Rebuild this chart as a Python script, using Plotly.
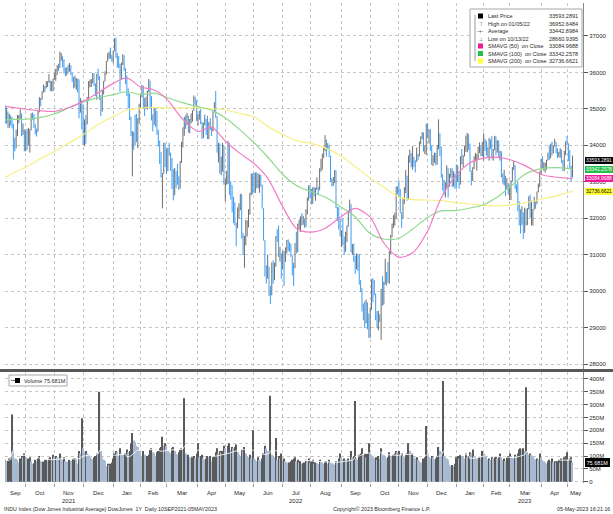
import pandas as pd
import plotly.graph_objects as go

# ---------------- data ----------------
HOLIDAYS = ["2021-11-25", "2021-12-24", "2022-01-17", "2022-02-21", "2022-04-15",
            "2022-05-30", "2022-06-20", "2022-07-04", "2022-09-05", "2022-11-24",
            "2022-12-26", "2023-01-02", "2023-01-16", "2023-02-20", "2023-04-07"]
START, END = "2021-09-10", "2023-05-05"
first_open = 34879

close = [
    34607, 34869, 34577, 34814, 34751, 34584, 33970, 33919, 34258, 34764, 34798, 34870, 34299, 34390, 33844,
    34326, 34002, 34314, 34417, 34754, 34746, 34496, 34378, 34377, 34912, 35295, 35259, 35457, 35609, 35603, 35677, 35741, 35757, 35491, 35731, 35820,
    35913, 36053, 36158, 36124, 36328, 36432, 36320, 36080, 35921, 36100, 36087, 36142, 35931, 35871, 35602, 35619, 35814, 35805, 34899, 35136, 34484,
    34022, 34640, 34580, 35227, 35719, 35754, 35754, 35971, 35650, 35544, 35927, 35898, 35365, 34932, 35493, 35754, 35950, 36302, 36398, 36488, 36398, 36338,
    36585, 36800, 36407, 36236, 36231, 36068, 36252, 36290, 36114, 35912, 35369, 35029, 34715, 34265, 34364, 34298, 34168, 34160, 34725, 35132,
    35405, 35629, 35111, 35089, 35091, 35463, 35768, 35242, 34738, 34566, 34989, 34934, 34312, 34079, 33597, 33132, 33224, 34059, 33893,
    33295, 33891, 33795, 33615, 32818, 32633, 33287, 33174, 32945, 32818, 33545, 34063, 34481, 34755, 34553, 34808, 34359, 34708, 34862, 34956, 35294, 35229, 34679,
    34818, 34922, 34641, 34497, 34584, 34721, 34309, 34221, 34565, 34452, 34412, 34912, 35161, 34793, 33812, 34050, 33241, 33302, 34000, 32977,
    33062, 33129, 34061, 32998, 32900, 32246, 32161, 31834, 31730, 32197, 32223, 32655, 31490, 31253, 31262, 31880, 31929, 32120, 32637, 33213, 32990,
    32813, 33248, 32900, 32916, 33180, 32910, 32273, 31393, 30517, 30365, 30669, 29927, 29889, 30530, 30483, 30677, 31501, 31439, 30947, 31029, 30775,
    31097, 30968, 31037, 31385, 31338, 31173, 30982, 30773, 30631, 31288, 31073, 31827, 31875, 32037, 31899, 31990, 31762, 32198, 32530, 32845,
    32798, 32397, 32813, 32727, 32803, 32833, 32774, 33310, 33337, 33761, 33913, 34152, 33981, 33999, 33707, 33064, 32910, 32969, 33292, 32283, 32099, 31791, 31510,
    31656, 31318, 31145, 31581, 31775, 32152, 32381, 31105, 31135, 30962, 30822, 31020, 30706, 30184, 30077, 29590, 29261, 29135, 29684, 29226, 28726,
    29491, 30317, 30274, 29927, 29297, 29203, 29240, 29211, 30039, 29635, 30186, 30524, 30424, 30334, 31083, 31500, 31837, 31840, 32034, 32862, 32733,
    32653, 32148, 32001, 32403, 32827, 33161, 32514, 33716, 33748, 33537, 33593, 33554, 33547, 33746, 33700, 34098, 34195, 34347, 33850, 33853, 34590,
    34395, 34430, 33947, 33597, 33598, 33781, 33477, 34005, 34108, 33966, 33203, 32920, 32757, 32850, 33377, 33027, 33204, 33241, 32876, 33221, 33147,
    33136, 33270, 32930, 33631, 33518, 33704, 33974, 34190, 34303, 33910, 33297, 33045, 33375, 33630, 33734, 33744, 33949, 33978, 33717, 34086,
    34093, 34054, 33926, 33891, 34156, 33949, 33699, 33869, 34246, 34089, 34128, 33697, 33827, 33130, 33045, 33154, 32817, 32889, 32657,
    32662, 33004, 33391, 33432, 32856, 32798, 32255, 31910, 31820, 32155, 31875, 32247, 31862, 32245, 32561, 32031, 32106, 32238, 32433, 32395, 32718, 32860, 33274,
    33601, 33403, 33483, 33486, 33587, 33685, 33647, 34030, 33887, 33988, 34083, 33898, 33787, 33809, 33876, 33531, 33302, 33827, 34098,
    34052, 33684, 33414, 33128, 33593,
]

high = [
    35100, 35030, 34930, 34870, 34800, 34780, 34440, 34210, 34430, 34830, 34830, 34990, 34770, 34600, 34440,
    34400, 34450, 34480, 34440, 34880, 34900, 34860, 34580, 34460, 34960, 35320, 35300, 35480, 35670, 35620, 35760, 35760, 35950, 35770, 35760, 35830,
    35990, 36100, 36200, 36240, 36570, 36530, 36440, 36360, 36130, 36140, 36210, 36260, 36200, 35990, 35850, 35910, 35850, 35820, 35370, 35300, 35240,
    35120, 34710, 34830, 35330, 35760, 35800, 35820, 35980, 35950, 35700, 35960, 36100, 35750, 35200, 35520, 35760, 36030, 36310, 36530, 36570, 36680, 36480,
    36600, 36935, 36953, 36530, 36450, 36100, 36270, 36500, 36470, 36080, 35730, 35560, 35420, 34790, 34390, 34350, 34840, 34860, 34740, 35140,
    35410, 35660, 35470, 35300, 35330, 35500, 35820, 35750, 35350, 34850, 35030, 34970, 34880, 34430, 34130, 33820, 33240, 34070, 33990,
    33830, 33930, 34070, 33790, 33650, 33350, 33380, 33230, 33490, 33150, 33570, 34100, 34490, 34780, 34830, 34890, 34700, 34720, 34870, 34960, 35370, 35330, 35200,
    34860, 34950, 35000, 34580, 34620, 34840, 34620, 34810, 34640, 34740, 34500, 34940, 35180, 35492, 34750, 34070, 33960, 33690, 34070, 33880,
    33080, 33300, 34120, 33930, 33010, 32780, 32590, 32440, 31880, 32300, 32410, 32670, 32400, 31600, 31520, 31950, 31940, 32250, 32700, 33220, 33230,
    33250, 33250, 33100, 33230, 33200, 33110, 32910, 32000, 31010, 30710, 31000, 30360, 30140, 30790, 30840, 30780, 31510, 31700, 31800, 31210, 30950,
    31100, 31000, 31200, 31400, 31420, 31330, 31300, 30870, 30660, 31320, 31630, 31850, 31960, 32050, 32140, 32070, 31980, 32250, 32570, 32910,
    32900, 32800, 32850, 32860, 32830, 33120, 32850, 33370, 33630, 33770, 33960, 34280, 34050, 34060, 33900, 33480, 33090, 33130, 33320, 33310, 32310, 32300, 31990,
    31670, 32000, 31500, 31630, 31800, 32210, 32510, 32020, 31290, 31310, 30830, 31030, 30850, 31010, 30300, 29960, 29660, 29720, 29770, 29550, 29390,
    29560, 30320, 30360, 30300, 29910, 29450, 29460, 29370, 30060, 30410, 30260, 30890, 30510, 30800, 31100, 31540, 31850, 32080, 32150, 32860, 32880,
    33040, 32800, 32160, 32550, 32850, 33320, 33100, 33720, 33880, 33780, 33980, 33690, 33590, 33940, 33760, 34100, 34250, 34360, 34290, 34010, 34590,
    34600, 34440, 34340, 34000, 33730, 33800, 33790, 34010, 34712, 34330, 33820, 33140, 33050, 32990, 33450, 33230, 33220, 33380, 33360, 33290, 33150,
    33480, 33450, 33190, 33700, 33900, 33730, 33990, 34270, 34340, 34260, 34050, 33280, 33400, 33700, 33790, 33750, 33960, 34080, 33950, 34090,
    34330, 34180, 34120, 33950, 34200, 34150, 34250, 33900, 34260, 34200, 34130, 33990, 33850, 33600, 33230, 33330, 32850, 33100, 32960,
    32890, 33040, 33400, 33570, 33460, 32930, 33000, 32460, 32250, 32330, 31900, 32290, 32200, 32280, 32600, 32650, 32480, 32250, 32590, 32450, 32730, 32950, 33280,
    33630, 33700, 33540, 33520, 33600, 33800, 34000, 34040, 34100, 33990, 34180, 33990, 33920, 33820, 33920, 33850, 33600, 33850, 34110,
    34257, 34050, 33870, 33440, 33720,
]

low = [
    34590, 34750, 34480, 34480, 34540, 34460, 33610, 33840, 33920, 34320, 34600, 34730, 34250, 34290, 33840,
    33900, 33880, 34000, 33800, 34480, 34700, 34480, 34300, 34240, 34500, 34960, 35070, 35260, 35460, 35460, 35560, 35600, 35720, 35490, 35500, 35480,
    35800, 35770, 35930, 36040, 36150, 36360, 36140, 35970, 35900, 35920, 35970, 36020, 35930, 35740, 35560, 35590, 35520, 35450, 34740, 34920, 34440,
    34010, 33990, 34040, 34640, 35360, 35590, 35600, 35700, 35630, 35350, 35250, 35790, 35250, 34800, 35020, 35400, 35790, 35970, 36320, 36370, 36380, 36300,
    36250, 36600, 36400, 36130, 36120, 35470, 35800, 36200, 36040, 35680, 35350, 35020, 34690, 34260, 33150, 33870, 33990, 34090, 33920, 34590,
    35000, 35320, 35000, 34800, 35000, 34980, 35520, 35030, 34680, 34380, 34670, 34510, 34290, 33970, 33490, 33120, 32270, 33300, 33400,
    33210, 33430, 33710, 33300, 32810, 32490, 32880, 32830, 32920, 32780, 32960, 33520, 33940, 34260, 34450, 34570, 34350, 34330, 34600, 34650, 35000, 35110, 34670,
    34540, 34700, 34580, 34170, 34200, 34550, 34280, 34170, 34170, 34420, 34260, 34380, 34920, 34750, 33800, 33530, 33230, 33180, 33280, 32920,
    32460, 32920, 32940, 32640, 32510, 32160, 31860, 31800, 31230, 31770, 31980, 32340, 31440, 30990, 30640, 31340, 31500, 31750, 32100, 32730, 32660,
    32700, 32690, 32820, 32820, 32700, 32860, 32270, 31390, 30400, 30210, 30340, 29870, 29650, 30160, 30200, 30300, 30720, 31350, 30940, 30810, 30340,
    30600, 30140, 30800, 31050, 31100, 31080, 30940, 30430, 30140, 30770, 31030, 31200, 31700, 31620, 31800, 31820, 31740, 31780, 32100, 32480,
    32560, 32380, 32400, 32600, 32480, 32780, 32640, 32960, 33280, 33410, 33650, 33840, 33690, 33870, 33680, 33000, 32870, 32890, 32980, 32280, 31930, 31690, 31500,
    31210, 31250, 30990, 31080, 31350, 31860, 32160, 31060, 30990, 30800, 30470, 30600, 30550, 30180, 29970, 29440, 29200, 28990, 29120, 28950, 28720,
    28720, 29700, 29700, 29880, 29200, 28980, 28920, 29150, 28661, 29600, 29730, 30230, 30150, 30230, 30200, 31020, 31480, 31730, 31800, 31980, 32660,
    32580, 32140, 31730, 32060, 32410, 32690, 32480, 33050, 33520, 33400, 33330, 33410, 33260, 33600, 33590, 33730, 34030, 34170, 33830, 33760, 33740,
    34200, 34050, 33850, 33460, 33430, 33520, 33450, 33480, 33890, 33700, 33110, 32760, 32640, 32570, 32980, 32570, 32860, 33110, 32860, 32960, 32810,
    32810, 32990, 32810, 32980, 33480, 33400, 33700, 33820, 33810, 33870, 33280, 32900, 33020, 33350, 33560, 33300, 33600, 33790, 33700, 33700,
    33580, 33850, 33720, 33680, 33580, 33900, 33620, 33580, 33900, 33720, 33800, 33670, 33580, 33120, 32950, 32900, 32610, 32810, 32650,
    32500, 32500, 33050, 33320, 32800, 32700, 32190, 31800, 31580, 31880, 31430, 31600, 31800, 31810, 32320, 32020, 31800, 31800, 32260, 32260, 32470, 32750, 32880,
    33200, 33350, 33300, 33250, 33330, 33590, 33600, 33690, 33720, 33780, 33960, 33780, 33650, 33670, 33660, 33520, 33290, 33400, 33730,
    34000, 33570, 33380, 33000, 33240,
]

volume_m = [
    85, 80, 82, 90, 95, 262, 122, 90, 88, 85, 75, 90, 100, 95, 110,
    95, 85, 90, 95, 80, 70, 72, 85, 82, 90, 100, 80, 75, 78, 85, 88, 82, 90, 95, 85, 105,
    95, 100, 95, 90, 110, 90, 85, 95, 80, 78, 75, 85, 82, 80, 90, 92, 88, 70, 120, 110, 247,
    130, 115, 120, 110, 105, 95, 90, 88, 95, 100, 110, 105, 350, 120, 95, 85, 80, 60, 70, 65, 70, 75,
    90, 110, 120, 115, 100, 130, 110, 105, 100, 110, 125, 115, 120, 150, 190, 160, 155, 140, 135, 120,
    110, 100, 120, 105, 95, 100, 105, 125, 130, 115, 110, 100, 115, 120, 130, 135, 175, 140, 150,
    140, 120, 115, 110, 130, 135, 120, 110, 105, 115, 125, 130, 125, 325, 110, 100, 105, 95, 90, 95, 100, 90, 110,
    150, 95, 100, 105, 90, 85, 90, 100, 95, 100, 80, 95, 100, 115, 130, 110, 120, 115, 120, 140,
    130, 110, 140, 150, 125, 135, 130, 135, 145, 115, 105, 100, 125, 120, 135, 110, 100, 95, 105, 90, 200,
    90, 85, 80, 95, 85, 80, 90, 110, 140, 130, 120, 115, 335, 105, 100, 95, 170, 85, 100, 90, 110,
    85, 90, 80, 75, 70, 75, 80, 85, 90, 95, 80, 85, 75, 80, 70, 72, 75, 85, 80, 90,
    75, 80, 85, 70, 75, 72, 68, 85, 80, 75, 70, 78, 80, 70, 85, 75, 72, 70, 65, 80, 75, 90, 110,
    95, 85, 90, 85, 80, 90, 85, 120, 95, 100, 314, 90, 85, 105, 110, 130, 105, 110, 95, 110, 150,
    110, 105, 95, 90, 95, 85, 100, 90, 130, 110, 105, 100, 90, 95, 115, 100, 95, 105, 110, 120, 115,
    120, 105, 110, 100, 95, 105, 110, 150, 120, 100, 110, 95, 90, 95, 85, 80, 75, 60, 90, 95, 217,
    110, 95, 90, 100, 95, 85, 90, 100, 135, 120, 115, 392, 100, 95, 90, 85, 65, 60, 65, 60, 70,
    95, 100, 90, 105, 100, 95, 90, 110, 95, 100, 115, 110, 125, 100, 95, 90, 85, 95, 90, 120,
    110, 105, 100, 85, 90, 85, 95, 90, 95, 100, 90, 95, 110, 95, 85, 90, 80, 95, 100,
    110, 100, 95, 90, 105, 100, 110, 125, 130, 125, 130, 120, 368, 115, 105, 110, 105, 100, 90, 85, 90, 85, 110,
    95, 85, 80, 75, 70, 80, 85, 80, 90, 75, 80, 75, 80, 85, 75, 90, 85, 95, 100,
    115, 85, 90, 95, 75.681,
]

sma_dates = ["2021-09-10", "2021-09-22", "2021-10-01", "2021-10-15", "2021-11-01", "2021-11-15",
             "2021-12-01", "2021-12-15", "2022-01-03", "2022-01-18", "2022-02-01", "2022-02-15",
             "2022-03-01", "2022-03-16", "2022-04-01", "2022-04-18", "2022-05-02", "2022-05-16",
             "2022-06-01", "2022-06-15", "2022-07-01", "2022-07-18", "2022-08-01", "2022-08-16",
             "2022-09-01", "2022-09-16", "2022-10-03", "2022-10-17", "2022-11-01", "2022-11-15",
             "2022-12-01", "2022-12-15", "2023-01-03", "2023-01-18", "2023-02-01", "2023-02-15",
             "2023-03-01", "2023-03-16", "2023-04-03", "2023-04-18", "2023-05-01", "2023-05-05"]
sma50 = [35070, 35030, 34990, 34950, 34930, 35030, 35200, 35420, 35700, 35850, 35600, 35520,
         35280, 34750, 34380, 34500, 34120, 33800, 33500, 33100, 32320, 31720, 31620, 31720,
         32050, 32270, 32030, 31320, 30930, 31050, 31650, 32560, 33180, 33520, 33650, 33670,
         33610, 33450, 33200, 33130, 33100, 33085]
sma100 = [34700, 34710, 34715, 34760, 34860, 35020, 35190, 35300, 35390, 35470, 35390, 35430,
          35320, 35180, 35060, 34960, 34760, 34450, 34070, 33680, 33200, 32900, 32740, 32580,
          32300, 32040, 31580, 31430, 31450, 31700, 32020, 32200, 32210, 32280, 32370, 32580,
          32850, 33200, 33360, 33390, 33370, 33342]
sma200 = [33120, 33280, 33400, 33620, 33830, 34050, 34290, 34550, 34790, 34970, 35020, 35045,
          35030, 35030, 35030, 35010, 34970, 34880, 34780, 34520, 34300, 34130, 34060, 33930,
          33700, 33420, 33100, 32850, 32580, 32510, 32500, 32480, 32430, 32390, 32350, 32340,
          32360, 32420, 32520, 32600, 32700, 32737]

legend_labels = ["Last Price", "High on 01/05/22", "Average", "Low on 10/13/22",
                 "SMAVG (50)  on Close", "SMAVG (100)  on Close", "SMAVG (200)  on Close"]
legend_values = ["33593.2891", "36952.6484", "33442.8984", "28660.9395",
                 "33084.9688", "33342.2578", "32736.6621"]
tag_values = [33593.2891, 33342.2578, 33084.9688, 32736.6621]
vol_last = 75.681
price_ticks = [28000, 29000, 30000, 31000, 32000, 33000, 34000, 35000, 36000, 37000]
vol_ticks = [0, 50, 100, 150, 200, 250, 300, 350, 400]
vol_tick_text = ["0", "50M", "100M", "150M", "200M", "250M", "300M", "350M", "400M"]
footer_left = "INDU Index (Dow Jones Industrial Average) DowJones  1Y  Daily 10SEP2021-05MAY2023"
footer_mid = "Copyright\u00a9 2023 Bloomberg Finance L.P."
footer_right = "05-May-2023 16:21:16"

# ---------------- styling / geometry ----------------
W, H = 613, 514
ML, MR, MT, MB = 5, 30, 3, 31
PW, PH = W - ML - MR, H - MT - MB
FONT = "Liberation Sans"
UP, DN = "#6e6e6e", "#3d9cf2"
PINK, GREEN, YELLOW = "#f27cc8", "#8fd98f", "#f7ef86"
PINK_T, GREEN_T, YELLOW_T = "#ee1a9a", "#22c04a", "#ffff33"
GRID = "#c6c6c6"
TXT = "#2a2a2a"


def pxx(px):
    return (px - ML) / PW


def pxy(py):
    return (H - MB - py) / PH


dates = pd.bdate_range(START, END)
dates = dates[~dates.isin(pd.to_datetime(HOLIDAYS))]
n = len(dates)
idx = list(range(n))
open_ = [first_open] + close[:-1]
hi = [max(h, o, c) for h, o, c in zip(high, open_, close)]
lo = [min(l, o, c) for l, o, c in zip(low, open_, close)]
sma_idx = list(dates.get_indexer(pd.to_datetime(sma_dates)))

step = 1.367
r0 = -(5.2 - ML) / step
r1 = r0 + PW / step

months = dates.to_period("M")
starts = [0] + [i for i in range(1, n) if months[i] != months[i - 1]]
grid_x = starts[1:]

vcol = ["#5a5a5a" if (i == 0 or volume_m[i] >= volume_m[i - 1]) else "#a8bad2" for i in range(n)]
vol_ma = pd.Series(volume_m).rolling(20, min_periods=1).mean().tolist()

fig = go.Figure()
for vals, col in [(sma200, YELLOW), (sma100, GREEN), (sma50, PINK)]:
    fig.add_trace(go.Scatter(x=sma_idx, y=vals, mode="lines", xaxis="x", yaxis="y",
                             line=dict(color=col, width=1.2, shape="spline", smoothing=0.8),
                             hoverinfo="skip"))
fig.add_trace(go.Ohlc(x=idx, open=open_, high=hi, low=lo, close=close, xaxis="x", yaxis="y",
                      increasing=dict(line=dict(color=UP, width=1)),
                      decreasing=dict(line=dict(color=DN, width=1)),
                      tickwidth=0.2, hoverinfo="skip"))
fig.add_trace(go.Bar(x=idx, y=volume_m, xaxis="x2", yaxis="y2", width=0.85,
                     marker=dict(color=vcol, line=dict(width=0)), hoverinfo="skip"))
fig.add_trace(go.Scatter(x=idx, y=vol_ma, mode="lines", xaxis="x2", yaxis="y2",
                         line=dict(color="white", width=1), opacity=0.85, hoverinfo="skip"))

axis_font = dict(family=FONT, size=6, color=TXT)
common_x = dict(type="linear", range=[r0, r1], tickvals=grid_x, showticklabels=False,
                showgrid=True, gridcolor=GRID, griddash="dot", gridwidth=1, zeroline=False,
                domain=[0, 1])
fig.update_layout(
    width=W, height=H, margin=dict(l=ML, r=MR, t=MT, b=MB),
    paper_bgcolor="white", plot_bgcolor="white", showlegend=False, hovermode=False,
    xaxis=dict(**common_x, anchor="y", ticks="", rangeslider=dict(visible=False)),
    xaxis2=dict(**common_x, anchor="y2", matches="x", ticks="outside", ticklen=3, tickcolor="#9a9a9a"),
    yaxis=dict(domain=[pxy(369), 1], range=[27863, 37905], side="right", anchor="x",
               tickvals=price_ticks, ticktext=[str(v) for v in price_ticks],
               ticks="outside", ticklen=4, tickcolor="#555", showline=True, linecolor="#8a8a8a",
               showgrid=True, gridcolor=GRID, griddash="dot", zeroline=False, tickfont=axis_font),
    yaxis2=dict(domain=[0, pxy(372)], range=[-5.06, 427.2], side="right", anchor="x2",
                tickvals=vol_ticks, ticktext=vol_tick_text,
                ticks="outside", ticklen=4, tickcolor="#555", showline=True, linecolor="#8a8a8a",
                showgrid=True, gridcolor=GRID, griddash="dot", zeroline=False, tickfont=axis_font),
)

shapes = []
ann = []


def text(t, px, py, size=5.5, color=TXT, xanchor="left", **kw):
    ann.append(dict(text=t, x=pxx(px), y=pxy(py), xref="paper", yref="paper", showarrow=False,
                    xanchor=xanchor, yanchor="middle", font=dict(family=FONT, size=size, color=color), **kw))


# panel separator
shapes.append(dict(type="line", xref="paper", yref="paper", x0=pxx(0), x1=pxx(W), y0=pxy(370.5), y1=pxy(370.5),
                   line=dict(color="#5a5a5a", width=3)))

# month and year labels
mid_pos = []
for k, s in enumerate(starts):
    a = r0 if k == 0 else s
    b = r1 if k == len(starts) - 1 else starts[k + 1]
    c = (a + b) / 2
    mid_pos.append(c)
    ann.append(dict(text=dates[s].strftime("%b"), x=c, y=pxy(493), xref="x", yref="paper", showarrow=False,
                    xanchor="center", yanchor="middle", font=dict(family=FONT, size=6, color=TXT)))
years = {}
for k, s in enumerate(starts):
    years.setdefault(dates[s].year, []).append(k)
for yr, ks in years.items():
    k = ks[len(ks) // 2]
    ann.append(dict(text=str(yr), x=mid_pos[k], y=pxy(501), xref="x", yref="paper", showarrow=False,
                    xanchor="center", yanchor="middle", font=dict(family=FONT, size=6, color=TXT)))

# footer
text(footer_left, 2, 509, size=5.3)
text(footer_mid, 381, 509, size=5.3, xanchor="center")
text(footer_right, 612, 509, size=5.3, xanchor="right")

# legend box
bx0, bx1, by0, by1 = 470, 582, 9, 67
shapes.append(dict(type="rect", xref="paper", yref="paper", x0=pxx(bx0), x1=pxx(bx1), y0=pxy(by1), y1=pxy(by0),
                   line=dict(color="#a8a8a8", width=1), fillcolor="white"))
shapes.append(dict(type="line", xref="paper", yref="paper", x0=pxx(475), x1=pxx(475), y0=pxy(61), y1=pxy(15),
                   line=dict(color="#9a9a9a", width=1)))
rows_y = [16, 23.5, 31, 38.5, 46, 53.5, 61]
sq_cols = {0: "#000000", 4: PINK_T, 5: GREEN_T, 6: YELLOW_T}
for r, (lab, val) in enumerate(zip(legend_labels, legend_values)):
    y = rows_y[r]
    if r in sq_cols:
        shapes.append(dict(type="rect", xref="paper", yref="paper", x0=pxx(478), x1=pxx(483),
                           y0=pxy(y + 2.5), y1=pxy(y - 2.5), line=dict(width=0), fillcolor=sq_cols[r]))
    else:
        glyph = {1: "\u22a4", 2: "-+-", 3: "\u22a5"}[r]
        text(glyph, 480.5, y, size=5, xanchor="center", color="#444")
    text(lab, 486, y)
    text(val, 580, y, xanchor="right")

# right-side value tags
tag_bg = ["#000000", GREEN_T, PINK_T, YELLOW_T]
tag_fg = ["white", "white", "white", "black"]
for v, bg, fg in zip(tag_values, tag_bg, tag_fg):
    ann.append(dict(text=f"{v:.4f}", x=pxx(584.5), y=v, xref="paper", yref="y", showarrow=False,
                    xanchor="left", yanchor="middle", bgcolor=bg, bordercolor=bg, borderpad=0,
                    font=dict(family=FONT, size=4.9, color=fg)))
ann.append(dict(text=f"{vol_last:.3f}M", x=pxx(584.5), y=vol_last, xref="paper", yref="y2", showarrow=False,
                xanchor="left", yanchor="middle", bgcolor="black", bordercolor="black", borderpad=0.5,
                font=dict(family=FONT, size=5.5, color="white")))

# volume legend
shapes.append(dict(type="rect", xref="paper", yref="paper", x0=pxx(9), x1=pxx(67), y0=pxy(386), y1=pxy(375),
                   line=dict(color="#a8a8a8", width=1), fillcolor="white"))
shapes.append(dict(type="line", xref="paper", yref="paper", x0=pxx(11), x1=pxx(15), y0=pxy(380.5), y1=pxy(380.5),
                   line=dict(color="#777", width=1)))
shapes.append(dict(type="rect", xref="paper", yref="paper", x0=pxx(15), x1=pxx(20), y0=pxy(383), y1=pxy(378),
                   line=dict(width=0), fillcolor="black"))
text(f"Volume {vol_last:.3f}M", 22, 380.5)

fig.update_layout(shapes=shapes, annotations=ann)
fig.write_html("out.html", config={"displayModeBar": False},
               post_script="document.body.style.margin='0px';document.body.style.padding='0px';"
                           "document.body.style.overflow='hidden';")
